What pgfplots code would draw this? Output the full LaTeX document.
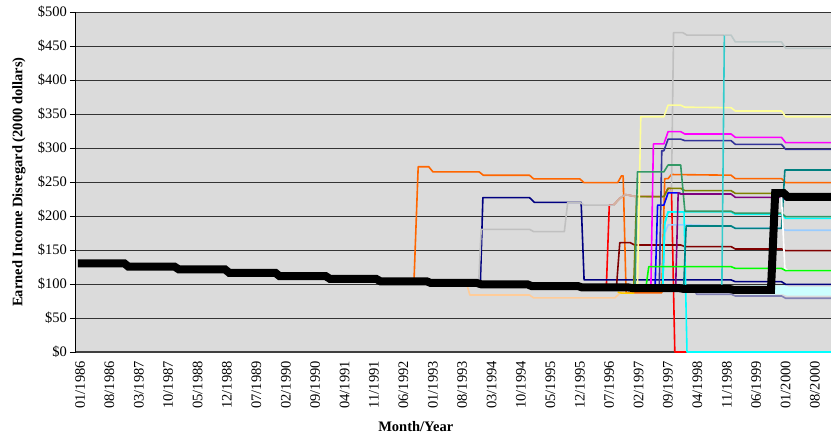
\documentclass[border=0pt]{standalone}
\usepackage{fontspec}
\setmainfont{Liberation Serif}
\usepackage{pgfplots}
\pgfplotsset{compat=1.18}

\definecolor{cOrange}{RGB}{255,102,0}
\definecolor{cNavy}{RGB}{0,0,128}
\definecolor{cLGray}{RGB}{192,192,192}
\definecolor{cPeach}{RGB}{255,204,153}
\definecolor{cGold}{RGB}{255,204,0}
\definecolor{cRed}{RGB}{255,0,0}
\definecolor{cTan}{RGB}{210,180,160}
\definecolor{cMaroon}{RGB}{128,0,0}
\definecolor{cOlive}{RGB}{128,128,0}
\definecolor{cSea}{RGB}{51,153,102}
\definecolor{cYellow}{RGB}{255,255,153}
\definecolor{cGreen}{RGB}{0,255,0}
\definecolor{cMagenta}{RGB}{255,0,255}
\definecolor{cBlue}{RGB}{0,0,255}
\definecolor{cSlate}{RGB}{51,51,153}
\definecolor{cCyan}{RGB}{0,255,255}
\definecolor{cLBlue}{RGB}{153,204,255}
\definecolor{cPurple}{RGB}{128,0,128}
\definecolor{cTeal}{RGB}{0,128,128}
\definecolor{cLav}{RGB}{130,130,180}
\definecolor{cTurq}{RGB}{51,204,204}
\definecolor{cLCyan}{RGB}{204,255,255}
\definecolor{cGrayTeal}{RGB}{188,200,200}

\begin{document}
\fontsize{14.5}{17}\selectfont
\begin{tikzpicture}
\useasboundingbox (0,0) rectangle (831pt,440pt);
\begin{axis}[
    at={(76pt,88pt)}, anchor=south west,
    scale only axis,
    width=755pt, height=340pt,
    xmin=-0.476, xmax=179.29,
    ymin=0, ymax=500,
    clip=false,
    axis x line*=bottom, axis y line*=left,
    axis background/.style={fill=black!14},
    x axis line style={draw=black!75, line width=1.5pt},
    y axis line style={draw=black, line width=1pt},
    ymajorgrids,
    grid style={draw=black!80, line width=0.9pt},
    ytick={0,50,...,500},
    yticklabels={\$0,\$50,\$100,\$150,\$200,\$250,\$300,\$350,\$400,\$450,\$500},
    xtick={0,7,...,175},
    xticklabels={01/1986,08/1986,03/1987,10/1987,05/1988,12/1988,07/1989,02/1990,09/1990,04/1991,11/1991,06/1992,01/1993,08/1993,03/1994,10/1994,05/1995,12/1995,07/1996,02/1997,09/1997,04/1998,11/1998,06/1999,01/2000,08/2000},
    tick align=outside,
    major tick length=6pt,
    ytick style={draw=black, line width=0.8pt},
    xtick style={draw=none},
    xticklabel style={rotate=90, anchor=east, xshift=2pt, yshift=-2pt},
    yticklabel style={inner sep=3pt},
    xlabel={\textbf{Month/Year}},
    ylabel={\textbf{Earned Income Disregard (2000 dollars)}},
    xlabel style={at={(rel axis cs:0.45,-0.2206)}, anchor=center},
    ylabel style={at={(rel axis cs:-0.0755,0.5)}, anchor=center},
    every axis plot/.append style={line width=1.6pt, line join=round, mark=none},
]
% orange
\addplot[cOrange] coordinates {(80,104) (81,272.5) (83.5,272.5) (84.5,265) (95.5,265) (96.5,260) (107.5,260) (108.5,254.5) (119.5,254.5) (120.5,249) (128.5,249) (129.4,259) (129.8,259) (130.5,87) (139,87) (139.7,255) (140.5,255) (141.3,261) (155.5,260) (156.5,255) (167.5,255) (168.5,249) (180,249)};
% peach
\addplot[cPeach] coordinates {(92.5,101.5) (93.3,83.8) (107.5,83.8) (108.5,79.5) (127.8,79.5) (129.3,88) (130,88)};
% gold
\addplot[cGold] coordinates {(128.5,88) (129.5,86.5) (132.5,86.5)};
% red
\addplot[cRed] coordinates {(125.8,95) (126.5,216) (127.5,216) (129,226) (130.3,231.5) (132.5,229) (139.5,228.4) (140.5,240.7) (141.3,240.7) (142.1,0) (145,0)};
% navy
\addplot[cNavy] coordinates {(95.8,100) (96.4,227) (107.5,227) (108.7,220) (119.8,220) (120.5,106) (155.5,106) (156.5,103.4) (167.5,103.4) (168.5,99.5) (180,99.5)};
% light gray
\addplot[cLGray] coordinates {(95.4,101.5) (96,180.4) (107.5,180.4) (108.5,177) (115.8,177) (116.6,220) (119.5,220) (120.5,216) (127.5,216) (129,226) (130.3,231.5) (132.5,229) (139.5,228.4) (140.5,236) (141.3,236) (141.8,469.6) (144,469.6) (145,466) (153.8,466)};
% tan
\addplot[cTan] coordinates {(127.5,216) (129,226) (130.3,231.5) (132.5,229) (139.5,228.4) (140.5,236) (141.5,236)};
% maroon
\addplot[cMaroon] coordinates {(128.2,95) (129,160.8) (131.5,160.8) (132.5,157.4) (143.5,157.4) (144.5,155) (155.5,155) (156.5,151.5) (167.5,151.5) (168.5,149) (180,149)};
% olive
\addplot[cOlive] coordinates {(132.3,94) (133,228.4) (139.5,228.4) (140.5,240.7) (143.5,240.7) (144.5,237.3) (155.5,237.3) (156.5,233.3) (167.5,233.3) (168.5,228) (180,228)};
% yellow
\addplot[cYellow] coordinates {(133.2,94) (134,346) (139.5,346) (140.5,363) (143.5,363) (144.5,360) (155.5,359.3) (156.5,354.4) (167.5,354.4) (168.5,346) (180,346)};
% magenta
\addplot[cMagenta] coordinates {(136.4,94) (137,306) (139.5,306) (140.5,324) (143.5,324) (144.5,320.6) (155.5,320.6) (156.5,315.7) (167.5,315.7) (168.5,307.8) (180,307.8)};
% blue
\addplot[cBlue] coordinates {(137.4,94) (138,216) (139.5,216) (140.5,234) (143,234) (143.5,233)};
% slate blue
\addplot[cSlate] coordinates {(138.4,94) (139,296) (139.5,296) (140.5,313) (143.5,313) (144.5,310.8) (155.5,310.8) (156.5,305.4) (167.5,305.4) (168.5,298) (180,298)};
% light blue
\addplot[cLBlue] coordinates {(139.2,94) (139.7,174) (140.5,187) (144.5,187) (155.5,185) (156.5,182) (167.5,182) (168.5,179) (180,179)};
% cyan dropping to zero
\addplot[cCyan] coordinates {(139.2,94) (139.7,189) (140.5,206) (144.3,206) (145,0) (180,0)};
% cyan
\addplot[cCyan] coordinates {(139.2,94) (139.7,189) (140.5,206) (155.5,206) (156.5,202.5) (167.5,202.5) (168.5,196.6) (180,196.6)};
% sea green
\addplot[cSea] coordinates {(132.6,94) (133.2,265) (139.5,265) (140.5,275) (143.5,275) (144.5,207) (155.5,207) (156.5,204) (167.5,204) (168.5,199) (180,199)};
% purple
\addplot[cPurple] coordinates {(142.3,94) (142.9,234) (143.5,232.3) (155.5,232.3) (156.5,227.5) (167.5,227.5) (168.5,224) (180,224)};
% teal
\addplot[cTeal] coordinates {(144.2,94) (144.8,185.3) (155.5,185.3) (156.5,181.9) (167.5,181.9) (168.3,267.6) (180,267.6)};
% lavender
\addplot[cLav] coordinates {(146.5,93) (147.3,85) (155.5,85) (156.5,82.4) (167.5,82.4) (168.5,79) (180,79)};
% turquoise
\addplot[cTurq] coordinates {(153.3,92.5) (153.9,466)};
% gray-teal
\addplot[cGrayTeal] coordinates {(153.9,466) (155.5,466) (156.5,456) (167.5,456) (168.5,446.6) (180,446.6)};
% white
\addplot[white] coordinates {(166,233) (167.5,228) (168.3,123) (169,119.6) (180,119.6)};
% green
\addplot[cGreen] coordinates {(135.2,94) (135.9,125.5) (155.5,125.5) (156.5,123) (167.5,123) (168.5,119.6) (180,119.6)};
% light cyan thick
\addplot[cLCyan, line width=9pt, line join=miter] coordinates {(160,91.5) (168,91.5) (169,89.5) (180,89.5)};
% black thick
\addplot[black, line width=8pt, line join=miter] coordinates {(0,130.5) (11,130.5) (12,125.5) (23,125.5) (24,121.5) (35,121.5) (36,116.5) (47,116.5) (48,111.5) (59,111.5) (60,107.5) (71,107.5) (72,104) (83,104) (84,101.5) (95,101.5) (96,99.5) (107,99.5) (108,97) (119,97) (120,95) (131,95) (132,94) (143,94) (144,93) (155,93) (156,91.5) (165,91.5) (166,233.8) (168,233.8) (169,228) (180,228)};
\end{axis}
\end{tikzpicture}
\end{document}
